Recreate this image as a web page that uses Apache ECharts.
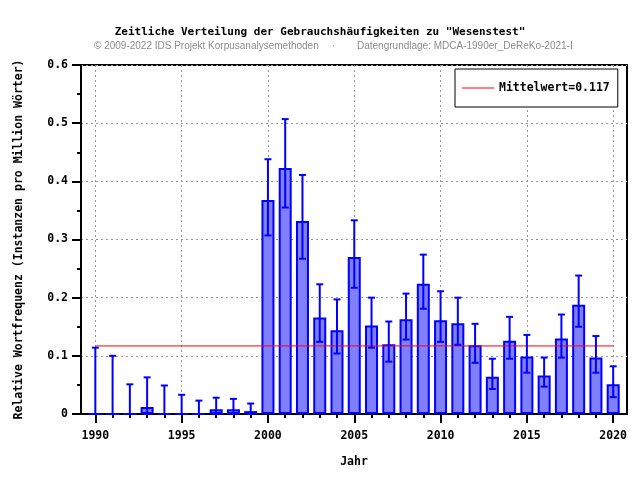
<!DOCTYPE html>
<html>
<head>
<meta charset="utf-8">
<script src="https://cdn.jsdelivr.net/npm/echarts@6/dist/echarts.min.js"></script>
<style>
html, body { margin: 0; padding: 0; background: #fff; }
#chart { width: 640px; height: 480px; }
</style>
</head>
<body>
<div id="chart"></div>
<script>
//------------------- data --------------
var years = [1990, 1991, 1992, 1993, 1994, 1995, 1996, 1997, 1998, 1999,
             2000, 2001, 2002, 2003, 2004, 2005, 2006, 2007, 2008, 2009,
             2010, 2011, 2012, 2013, 2014, 2015, 2016, 2017, 2018, 2019, 2020];
var freq = [0, 0, 0, 0.012, 0, 0, 0, 0.008, 0.008, 0.005,
            0.368, 0.423, 0.332, 0.166, 0.144, 0.270, 0.152, 0.120, 0.163, 0.224,
            0.161, 0.156, 0.118, 0.064, 0.126, 0.099, 0.066, 0.130, 0.188, 0.097, 0.051];
var errLow = [0, 0, 0, 0, 0, 0, 0, 0, 0, 0,
              0.307, 0.355, 0.267, 0.124, 0.104, 0.217, 0.114, 0.090, 0.128, 0.181,
              0.124, 0.119, 0.088, 0.043, 0.095, 0.071, 0.047, 0.097, 0.150, 0.071, 0.029];
var errHigh = [0.114, 0.100, 0.051, 0.063, 0.049, 0.033, 0.023, 0.028, 0.026, 0.018,
               0.438, 0.507, 0.411, 0.223, 0.197, 0.333, 0.200, 0.159, 0.207, 0.274,
               0.211, 0.200, 0.155, 0.095, 0.167, 0.136, 0.097, 0.171, 0.238, 0.134, 0.082];
var mean = 0.117;
var majorYears = [1990, 1995, 2000, 2005, 2010, 2015, 2020];

//------------------- build --------------
var barData = [], errData = [];
for (var i = 0; i < years.length; i++) {
  barData.push([years[i], freq[i]]);
  errData.push([years[i], errLow[i], errHigh[i]]);
}
var meanName = 'Mittelwert=' + mean.toFixed(3);
var meanData = [[years[0], mean], [years[years.length - 1], mean]];

var mono = 'DejaVu Sans Mono';
var blue = '#0000ff';
var subFont = { fontFamily: 'Liberation Sans', fontWeight: 'normal', fontSize: 10, color: '#8c8c8c' };

function renderErr(params, api) {
  var x = api.value(0);
  var lo = api.coord([x, api.value(1)]);
  var hi = api.coord([x, api.value(2)]);
  var w = 3.5;
  var st = { stroke: blue, lineWidth: 2 };
  return {
    type: 'group',
    children: [
      { type: 'line', shape: { x1: lo[0], y1: lo[1], x2: hi[0], y2: hi[1] }, style: st },
      { type: 'line', shape: { x1: hi[0] - w, y1: hi[1], x2: hi[0] + w, y2: hi[1] }, style: st },
      { type: 'line', shape: { x1: lo[0] - w, y1: lo[1], x2: lo[0] + w, y2: lo[1] }, style: st }
    ]
  };
}

var axisFont = { fontFamily: mono, fontWeight: 'bold', fontSize: 11.5, color: '#000' };

var option = {
  animation: false,
  backgroundColor: '#fff',
  title: [{
    text: 'Zeitliche Verteilung der Gebrauchshäufigkeiten zu "Wesenstest"',
    left: 'center', top: 27, padding: 0,
    textStyle: { fontFamily: mono, fontWeight: 'bold', fontSize: 11, color: '#000' }
  }, {
    text: '© 2009-2022 IDS Projekt Korpusanalysemethoden',
    left: 94, top: 41, padding: 0, textStyle: subFont
  }, {
    text: '·',
    left: 332, top: 41, padding: 0, textStyle: subFont
  }, {
    text: 'Datengrundlage: MDCA-1990er_DeReKo-2021-I',
    left: 357, top: 41, padding: 0, textStyle: subFont
  }],
  legend: {
    data: [{ name: meanName, icon: 'rect' }],
    left: 455, top: 69,
    padding: [13, 8, 13, 7],
    borderColor: '#000', borderWidth: 1, backgroundColor: '#fff',
    itemWidth: 32, itemHeight: 1, itemGap: 7,
    textStyle: { fontFamily: mono, fontWeight: 'bold', fontSize: 11.5, color: '#000' }
  },
  grid: {
    left: 81, right: 13, top: 65, bottom: 66,
    show: true, borderColor: '#000', borderWidth: 2
  },
  xAxis: [{
    type: 'value', min: 1989.17, max: 2020.8,
    name: 'Jahr', nameLocation: 'middle', nameGap: 42,
    nameTextStyle: axisFont,
    axisLine: { show: true, lineStyle: { color: '#000', width: 2 } },
    axisTick: { show: true, customValues: majorYears, length: 9, lineStyle: { color: '#000', width: 2 } },
    axisLabel: {
      customValues: majorYears, margin: 16,
      formatter: function (v) { return String(v); },
      fontFamily: mono, fontWeight: 'bold', fontSize: 11.5, color: '#000'
    },
    splitLine: { show: true, customValues: majorYears, lineStyle: { color: '#999', width: 1, type: [2, 3] } }
  }, {
    type: 'value', min: 1989.17, max: 2020.8, position: 'bottom',
    axisLine: { show: false },
    axisTick: { show: true, customValues: years, length: 4, lineStyle: { color: '#000', width: 2 } },
    axisLabel: { show: false },
    splitLine: { show: false }
  }],
  yAxis: {
    type: 'value', min: 0, max: 0.6, interval: 0.1,
    name: 'Relative Wortfrequenz (Instanzen pro Million Wörter)',
    nameLocation: 'middle', nameGap: 56,
    nameTextStyle: axisFont,
    axisLine: { show: true, lineStyle: { color: '#000', width: 2 } },
    axisTick: { show: true, length: 9, lineStyle: { color: '#000', width: 2 } },
    minorTick: { show: true, splitNumber: 2, length: 4, lineStyle: { color: '#000', width: 2 } },
    axisLabel: { margin: 13, fontFamily: mono, fontWeight: 'bold', fontSize: 11.5, color: '#000' },
    splitLine: { show: true, lineStyle: { color: '#999', width: 1, type: [2, 3] } }
  },
  series: [{
    type: 'bar', name: 'freq', data: barData, barWidth: 13, z: 2,
    itemStyle: { color: '#8080ff', borderColor: blue, borderWidth: 2 }
  }, {
    type: 'line', name: meanName, data: meanData, symbol: 'none', z: 3,
    lineStyle: { color: '#ff0000', width: 1 }, itemStyle: { color: '#ff0000' }
  }, {
    type: 'custom', name: 'err', data: errData, renderItem: renderErr, z: 4,
    encode: { x: 0, y: [1, 2] }
  }]
};

echarts.init(document.getElementById('chart')).setOption(option);
</script>
</body>
</html>
